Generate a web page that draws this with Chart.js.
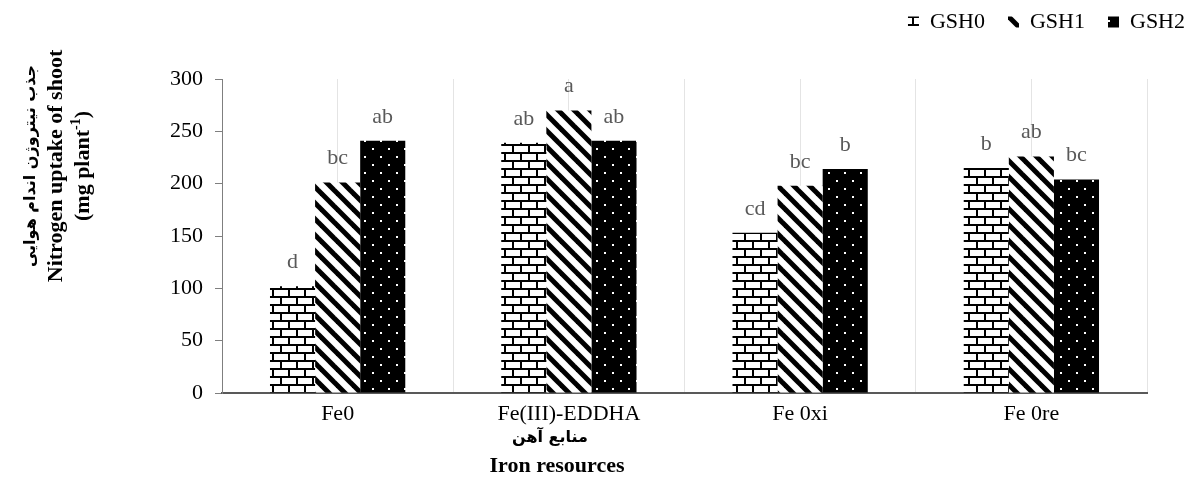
<!DOCTYPE html>
<html>
<head>
<meta charset="utf-8">
<script src="https://cdn.jsdelivr.net/npm/chart.js@4.4.0/dist/chart.umd.min.js"></script>
<style>
  html, body { margin: 0; padding: 0; background: #fff; }
  #wrap { width: 1188px; height: 479px; }
</style>
</head>
<body>
<div id="wrap"><canvas id="chart"></canvas></div>
<script>
// ---- data ----
const categories = ['Fe0', 'Fe(III)-EDDHA', 'Fe 0xi', 'Fe 0re'];
const seriesNames = ['GSH0', 'GSH1', 'GSH2'];
const gsh0 = [102, 239, 153, 215];
const gsh1 = [201, 270, 198, 226];
const gsh2 = [241, 241, 214, 204];
const letters0 = ['d', 'ab', 'cd', 'b'];
const letters1 = ['bc', 'a', 'bc', 'ab'];
const letters2 = ['ab', 'ab', 'b', 'bc'];
const yMin = 0, yMax = 300, yStep = 50;

const SERIF = '"Liberation Serif", "Times New Roman", "DejaVu Serif", serif';
const FA = '"DejaVu Sans", sans-serif';

// Excel-like fill patterns
function makePattern(kind) {
    const c = document.createElement('canvas');
    c.width = 16; c.height = 16;
    const g = c.getContext('2d');
    if (kind === 'brick') {
        g.fillStyle = '#fff'; g.fillRect(0, 0, 16, 16);
        g.fillStyle = '#000';
        g.fillRect(0, 0, 16, 2); g.fillRect(0, 8, 16, 2);
        g.fillRect(0, 0, 2, 8); g.fillRect(8, 8, 2, 8);
    } else if (kind === 'diag') {
        g.fillStyle = '#fff'; g.fillRect(0, 0, 16, 16);
        g.strokeStyle = '#000'; g.lineWidth = 5;
        for (let k = -16; k <= 16; k += 16) {
            g.beginPath(); g.moveTo(k - 4, -4); g.lineTo(k + 20, 20); g.stroke();
        }
    } else {
        g.fillStyle = '#000'; g.fillRect(0, 0, 16, 16);
        g.fillStyle = '#fff';
        g.fillRect(4, 4, 2, 2); g.fillRect(12, 12, 2, 2);
    }
    return g.createPattern(c, 'repeat');
}

// letters above the bars
const barLetters = {
    id: 'barLetters',
    afterDatasetsDraw(chart) {
        const ctx = chart.ctx;
        ctx.save();
        ctx.font = '22px ' + SERIF;
        ctx.fillStyle = '#595959';
        ctx.textAlign = 'center';
        ctx.textBaseline = 'bottom';
        chart.data.datasets.forEach((ds, i) => {
            chart.getDatasetMeta(i).data.forEach((bar, j) => {
                ctx.fillText(ds.letters[j], bar.x, bar.y - 13);
            });
        });
        ctx.restore();
    }
};

// legend placement
const legendPlace = {
    id: 'legendPlace',
    beforeInit(chart) {
        const fit = chart.legend.fit;
        chart.legend.fit = function () { fit.call(this); this.height = 79; };
    },
    afterLayout(chart) {
        chart.legend.right = 1208;
        chart.legend.top = -12;
    }
};

// axis titles (two languages)
const axisTitles = {
    id: 'axisTitles',
    afterDraw(chart) {
        const ctx = chart.ctx;
        ctx.save();
        ctx.fillStyle = '#000';
        ctx.textBaseline = 'middle';
        const cy = 166;
        const rot = (x, fn) => {
            ctx.save(); ctx.translate(x, cy); ctx.rotate(-Math.PI / 2); fn(); ctx.restore();
        };
        ctx.textAlign = 'center';
        rot(31, () => { ctx.font = 'bold 16px ' + FA; ctx.fillText('جذب نیتروژن اندام هوایی', 0, 0); });
        rot(56, () => { ctx.font = 'bold 22px ' + SERIF; ctx.fillText('Nitrogen uptake of shoot', 0, 0); });
        rot(83, () => {
            ctx.textAlign = 'left';
            const a = '(mg plant', s = '-1', b = ')';
            ctx.font = 'bold 22px ' + SERIF; const wa = ctx.measureText(a).width, wb = ctx.measureText(b).width;
            ctx.font = 'bold 14px ' + SERIF; const ws = ctx.measureText(s).width;
            let x = -(wa + ws + wb) / 2;
            ctx.font = 'bold 22px ' + SERIF; ctx.fillText(a, x, 0); x += wa;
            ctx.font = 'bold 14px ' + SERIF; ctx.fillText(s, x, -7); x += ws;
            ctx.font = 'bold 22px ' + SERIF; ctx.fillText(b, x, 0);
        });
        // x title
        ctx.textAlign = 'center';
        ctx.font = 'bold 16px ' + FA;
        ctx.fillText('منابع آهن', 550, 438);
        ctx.font = 'bold 22px ' + SERIF;
        ctx.fillText('Iron resources', 557, 466);
        ctx.restore();
    }
};

const patterns = [makePattern('brick'), makePattern('diag'), makePattern('dots')];
const values = [gsh0, gsh1, gsh2];
const letters = [letters0, letters1, letters2];

new Chart(document.getElementById('chart'), {
    type: 'bar',
    data: {
        labels: categories,
        datasets: seriesNames.map((name, i) => ({
            label: name,
            data: values[i],
            letters: letters[i],
            backgroundColor: patterns[i],
            borderWidth: 0,
            categoryPercentage: 0.585,
            barPercentage: 1
        }))
    },
    options: {
        responsive: true,
        maintainAspectRatio: false,
        animation: false,
        layout: { padding: { left: 100, right: 41, top: 0, bottom: 0 } },
        plugins: {
            legend: {
                position: 'top',
                align: 'end',
                labels: {
                    font: { family: SERIF, size: 22 },
                    color: '#000',
                    boxWidth: 11,
                    boxHeight: 11,
                    padding: 23
                }
            },
            tooltip: { enabled: false }
        },
        scales: {
            x: {
                offset: true,
                grid: { offset: true, color: '#e4e4e4', drawTicks: false },
                border: { color: '#595959', width: 2 },
                ticks: { font: { family: SERIF, size: 22 }, color: '#000', padding: 8 },
                afterFit: s => { s.height = 86; }
            },
            x2: {
                type: 'category',
                labels: categories,
                position: 'top',
                offset: true,
                grid: { offset: false, color: '#e4e4e4', drawTicks: false },
                border: { display: false },
                ticks: { display: false },
                afterFit: s => { s.height = 0; }
            },
            y: {
                min: yMin,
                max: yMax,
                ticks: { stepSize: yStep, font: { family: SERIF, size: 22 }, color: '#000', padding: 12 },
                grid: { drawOnChartArea: false, drawTicks: true, tickLength: 7, color: '#7f7f7f' },
                border: { color: '#7f7f7f', width: 1 },
                afterFit: s => { s.width = 122; }
            }
        }
    },
    plugins: [legendPlace, barLetters, axisTitles]
});
</script>
</body>
</html>
